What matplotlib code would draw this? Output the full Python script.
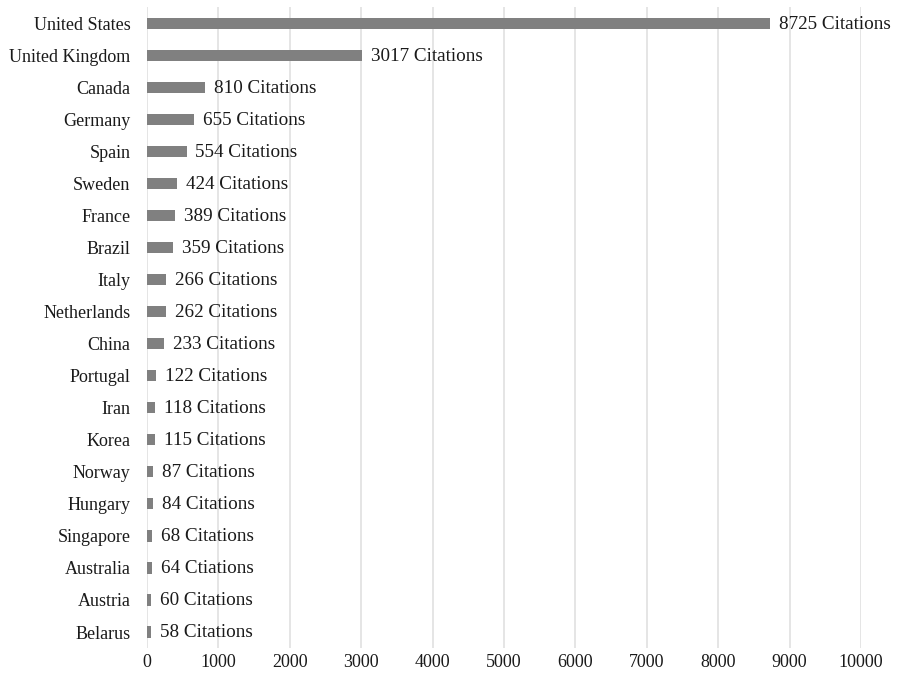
import matplotlib.pyplot as plt

countries = ['United States', 'United Kingdom', 'Canada', 'Germany', 'Spain', 'Sweden',
             'France', 'Brazil', 'Italy', 'Netherlands', 'China', 'Portugal', 'Iran',
             'Korea', 'Norway', 'Hungary', 'Singapore', 'Australia', 'Austria', 'Belarus']
citations = [8725, 3017, 810, 655, 554, 424, 389, 359, 266, 262, 233, 122, 118,
             115, 87, 84, 68, 64, 60, 58]
# label text as printed (includes the original typo)
labels = ['%d Citations' % c for c in citations]
labels[17] = '64 Ctiations'
xticks = list(range(0, 10001, 1000))

plt.rcParams['font.family'] = ['Liberation Serif', 'DejaVu Serif']
plt.rcParams['font.size'] = 13

fig = plt.figure(figsize=(8.97, 6.78), dpi=100)
ax = fig.add_axes([0.1639, 0.0442, 0.796, 0.945])

ypos = list(range(len(countries)))
ax.barh(ypos, citations, height=0.35, color='#808080', zorder=2)
for y, c, lab in zip(ypos, citations, labels):
    ax.text(c + 125, y + 0.03, lab, va='center', ha='left', fontsize=13.8, color='#1a1a1a')

ax.set_yticks(ypos)
ax.set_yticklabels(countries)
ax.set_ylim(len(countries) - 0.5, -0.5)
ax.set_xlim(0, 10000)
ax.set_xticks(xticks)
ax.grid(axis='x', color='#e0e0e0', linewidth=1.2, zorder=0)
ax.tick_params(axis='y', length=0, colors='#1a1a1a', pad=12)
ax.tick_params(axis='x', length=0, colors='#1a1a1a', pad=4)
for s in ax.spines.values():
    s.set_visible(False)

fig.savefig('out.png', dpi=100)
